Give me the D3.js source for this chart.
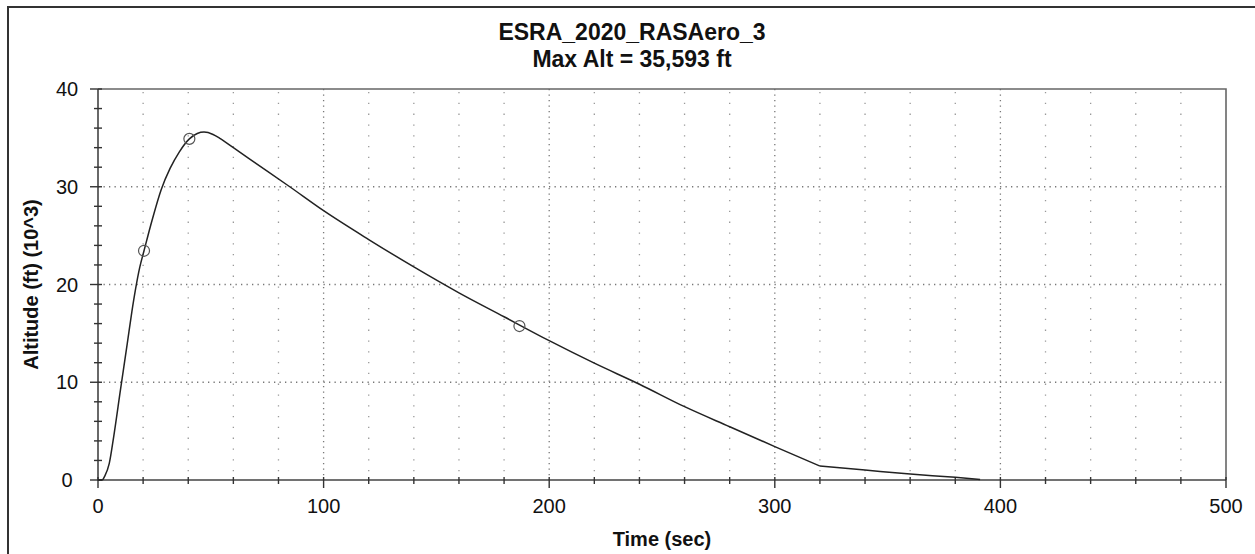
<!DOCTYPE html>
<html>
<head>
<meta charset="utf-8">
<script src="https://cdn.jsdelivr.net/npm/d3@7"></script>
<style>
    body { margin: 0; background: #fff; }
    text { font-family: "Liberation Sans", Arial, sans-serif; fill: #111; }
</style>
</head>
<body>
<div id="chart"></div>
<script>
// Flight profile, time in sec and altitude in thousands of ft
const flightTime = [0, 1.8, 3, 5, 7, 10, 13, 15, 16.7, 18.5, 20.4, 24, 28, 32, 36, 40.5, 44, 47, 51, 54, 60, 70, 85,
    100, 120, 140, 160, 180, 200, 220, 240, 260, 280, 300, 320, 340, 360, 380, 391];
const altitude = [0, 0, 0.4, 1.7, 4.5, 9.3, 14.0, 17.2, 19.6, 21.75, 23.45, 26.6, 29.7, 31.9, 33.55, 34.9, 35.45, 35.59, 35.35, 34.95, 34.0, 32.4, 30.0,
    27.55, 24.6, 21.8, 19.15, 16.7, 14.25, 11.95, 9.8, 7.5, 5.45, 3.42, 1.43, 1.02, 0.61, 0.27, 0.05];

// Event markers on the curve
const markerTime = [20.4, 40.5, 186.8];
const markerAlt = [23.45, 34.9, 15.75];

const xTicks = [0, 100, 200, 300, 400, 500];
const yTicks = [0, 10, 20, 30, 40];
const chartTitle = ["ESRA_2020_RASAero_3", "Max Alt = 35,593 ft"];

const W = 1255, H = 554;
const pLeft = 98, pRight = 1226, pTop = 89, pBottom = 480;

const svg = d3.select("#chart").append("svg")
    .attr("width", W)
    .attr("height", H);

// outer frame
svg.append("rect")
    .attr("x", 8).attr("y", 7)
    .attr("width", 1270).attr("height", 580)
    .attr("fill", "none")
    .attr("stroke", "#333")
    .attr("stroke-width", 2);

const x = d3.scaleLinear().domain([0, 500]).range([pLeft, pRight]);
const y = d3.scaleLinear().domain([0, 40]).range([pBottom, pTop]);

const minorX = d3.range(0, 501, 20).filter(d => d % 100 !== 0);
const minorY = d3.range(0, 41, 2).filter(d => d % 10 !== 0);

// grid
svg.append("g").selectAll("line")
    .data(minorX)
    .join("line")
    .attr("x1", d => x(d)).attr("x2", d => x(d))
    .attr("y1", pTop + 3).attr("y2", pBottom)
    .attr("stroke", "#999")
    .attr("stroke-width", 1.3)
    .attr("stroke-dasharray", "1.3 9.5");

svg.append("g").selectAll("line")
    .data(xTicks.slice(1, -1))
    .join("line")
    .attr("x1", d => x(d)).attr("x2", d => x(d))
    .attr("y1", pTop).attr("y2", pBottom)
    .attr("stroke", "#777")
    .attr("stroke-width", 1.3)
    .attr("stroke-dasharray", "1.3 4.2");

svg.append("g").selectAll("line")
    .data(yTicks.slice(1, -1))
    .join("line")
    .attr("x1", pLeft).attr("x2", pRight)
    .attr("y1", d => y(d)).attr("y2", d => y(d))
    .attr("stroke", "#777")
    .attr("stroke-width", 1.3)
    .attr("stroke-dasharray", "1.3 4.2");

// plot border
svg.append("path")
    .attr("d", `M${pLeft},${pTop}H${pRight}V${pBottom}`)
    .attr("fill", "none")
    .attr("stroke", "#666")
    .attr("stroke-width", 1.6);

svg.append("path")
    .attr("d", `M${pLeft},${pTop}V${pBottom}H${pRight}`)
    .attr("fill", "none")
    .attr("stroke", "#444")
    .attr("stroke-width", 1.6);

// ticks
svg.append("g").selectAll("line")
    .data(minorX)
    .join("line")
    .attr("x1", d => x(d)).attr("x2", d => x(d))
    .attr("y1", pBottom - 3).attr("y2", pBottom + 4)
    .attr("stroke", "#333").attr("stroke-width", 1.4);
svg.append("g").selectAll("line")
    .data(xTicks)
    .join("line")
    .attr("x1", d => x(d)).attr("x2", d => x(d))
    .attr("y1", pBottom - 3).attr("y2", pBottom + 8)
    .attr("stroke", "#333").attr("stroke-width", 1.4);

svg.append("g").selectAll("line")
    .data(minorY)
    .join("line")
    .attr("x1", pLeft - 4).attr("x2", pLeft + 4)
    .attr("y1", d => y(d)).attr("y2", d => y(d))
    .attr("stroke", "#333").attr("stroke-width", 1.4);
svg.append("g").selectAll("line")
    .data(yTicks)
    .join("line")
    .attr("x1", pLeft - 8).attr("x2", pLeft + 4)
    .attr("y1", d => y(d)).attr("y2", d => y(d))
    .attr("stroke", "#333").attr("stroke-width", 1.4);

// tick labels
svg.append("g").selectAll("text")
    .data(xTicks)
    .join("text")
    .attr("x", d => x(d))
    .attr("y", 513)
    .attr("text-anchor", "middle")
    .style("font-size", "20px")
    .text(d => d);

svg.append("g").selectAll("text")
    .data(yTicks)
    .join("text")
    .attr("x", 67)
    .attr("y", d => y(d))
    .attr("dy", "0.35em")
    .attr("text-anchor", "middle")
    .style("font-size", "20px")
    .text(d => d);

// axis labels
svg.append("text")
    .attr("x", (pLeft + pRight) / 2)
    .attr("y", 546)
    .attr("text-anchor", "middle")
    .style("font-size", "20px")
    .style("font-weight", "bold")
    .text("Time (sec)");

svg.append("text")
    .attr("transform", `translate(38,${(pTop + pBottom) / 2}) rotate(-90)`)
    .attr("text-anchor", "middle")
    .style("font-size", "20px")
    .style("font-weight", "bold")
    .text("Altitude (ft) (10^3)");

// title
svg.append("g").selectAll("text")
    .data(chartTitle)
    .join("text")
    .attr("x", 632)
    .attr("y", (d, i) => 40 + i * 27)
    .attr("text-anchor", "middle")
    .style("font-size", "23px")
    .style("font-weight", "bold")
    .text(d => d);

// flight curve, split at the kink so it stays sharp
const pts = flightTime.map((t, i) => [t, altitude[i]]);
const line = d3.line()
    .x(d => x(d[0]))
    .y(d => y(d[1]))
    .curve(d3.curveMonotoneX);

const kink = flightTime.indexOf(320);
[pts.slice(0, kink + 1), pts.slice(kink)].forEach(seg => {
    svg.append("path")
        .datum(seg)
        .attr("d", line)
        .attr("fill", "none")
        .attr("stroke", "#222")
        .attr("stroke-width", 1.5);
});

// markers
svg.append("g").selectAll("circle")
    .data(markerTime)
    .join("circle")
    .attr("cx", d => x(d))
    .attr("cy", (d, i) => y(markerAlt[i]))
    .attr("r", 5.5)
    .attr("fill", "none")
    .attr("stroke", "#555")
    .attr("stroke-width", 1.2);
</script>
</body>
</html>
